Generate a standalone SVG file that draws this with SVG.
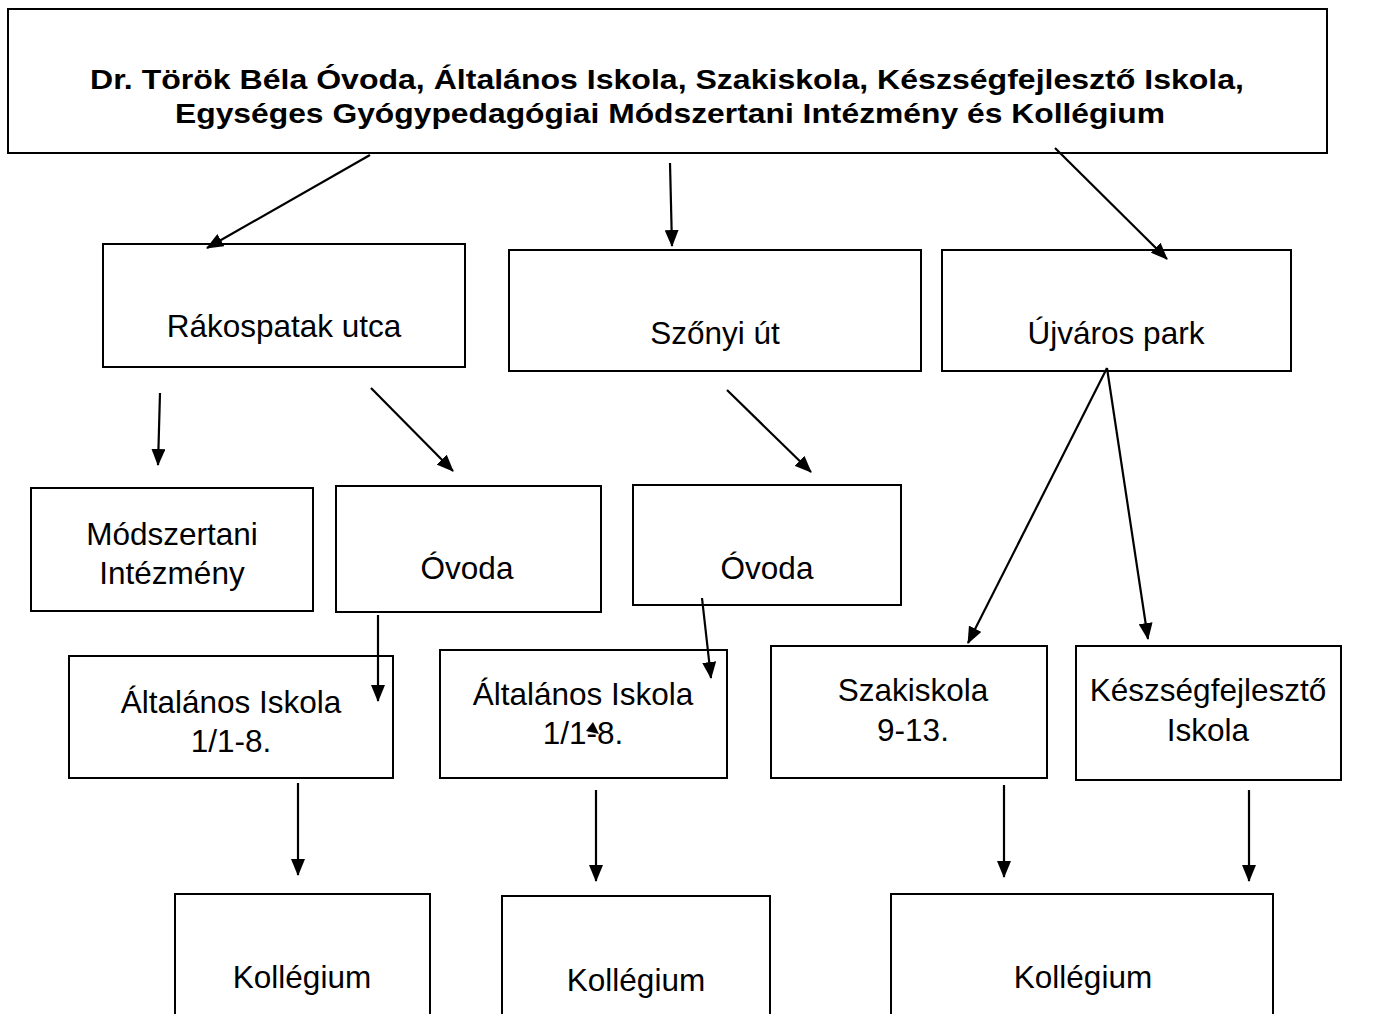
<svg xmlns="http://www.w3.org/2000/svg" width="1376" height="1014" viewBox="0 0 1376 1014">
<defs>
<marker id="ah" markerWidth="17" markerHeight="14" refX="16" refY="7" orient="auto" markerUnits="userSpaceOnUse">
<path d="M0,0 L17,7 L0,14 z" fill="#000"/>
</marker>
<style>
.box{fill:#fff;stroke:#000;stroke-width:2}
.t{font-family:"Liberation Sans",Arial,sans-serif;font-size:31.5px;fill:#000;text-anchor:middle}
.tb{font-family:"Liberation Sans",Arial,sans-serif;font-size:28px;font-weight:bold;fill:#000;text-anchor:middle}
.c{stroke:#000;stroke-width:2.2;fill:none;marker-end:url(#ah)}
</style>
</defs>
<rect width="1376" height="1014" fill="#fff"/>
<g id="root">
<rect class="box" x="8" y="9" width="1319" height="144"/>
<text class="tb" x="667" y="89" textLength="1154" lengthAdjust="spacingAndGlyphs">Dr. Török Béla Óvoda, Általános Iskola, Szakiskola, Készségfejlesztő Iskola,</text>
<text class="tb" x="670" y="123" textLength="990" lengthAdjust="spacingAndGlyphs">Egységes Gyógypedagógiai Módszertani Intézmény és Kollégium</text>
</g>
<g id="rakospatak">
<rect class="box" x="103" y="244" width="362" height="123"/>
<text class="t" x="284" y="337">Rákospatak utca</text>
</g>
<g id="szonyi">
<rect class="box" x="509" y="250" width="412" height="121"/>
<text class="t" x="715" y="344">Szőnyi út</text>
</g>
<g id="ujvaros">
<rect class="box" x="942" y="250" width="349" height="121"/>
<text class="t" x="1116" y="344">Újváros park</text>
</g>
<g id="modszertani">
<rect class="box" x="31" y="488" width="282" height="123"/>
<text class="t" x="172" y="545">Módszertani</text>
<text class="t" x="172" y="584">Intézmény</text>
</g>
<g id="ovoda1">
<rect class="box" x="336" y="486" width="265" height="126"/>
<text class="t" x="467" y="579">Óvoda</text>
</g>
<g id="ovoda2">
<rect class="box" x="633" y="485" width="268" height="120"/>
<text class="t" x="767" y="579">Óvoda</text>
</g>
<g id="altalanos1">
<rect class="box" x="69" y="656" width="324" height="122"/>
<text class="t" x="231" y="713">Általános Iskola</text>
<text class="t" x="231" y="752">1/1-8.</text>
</g>
<g id="altalanos2">
<rect class="box" x="440" y="650" width="287" height="128"/>
<text class="t" x="583" y="705">Általános Iskola</text>
<text class="t" x="583" y="744">1/1-8.</text>
</g>
<g id="szakiskola">
<rect class="box" x="771" y="646" width="276" height="132"/>
<text class="t" x="913" y="701">Szakiskola</text>
<text class="t" x="913" y="741">9-13.</text>
</g>
<g id="keszseg">
<rect class="box" x="1076" y="646" width="265" height="134"/>
<text class="t" x="1208" y="701">Készségfejlesztő</text>
<text class="t" x="1208" y="741">Iskola</text>
</g>
<g id="kollegium1">
<rect class="box" x="175" y="894" width="255" height="140"/>
<text class="t" x="302" y="988">Kollégium</text>
</g>
<g id="kollegium2">
<rect class="box" x="502" y="896" width="268" height="140"/>
<text class="t" x="636" y="991">Kollégium</text>
</g>
<g id="kollegium3">
<rect class="box" x="891" y="894" width="382" height="140"/>
<text class="t" x="1083" y="988">Kollégium</text>
</g>
<g id="connectors">
<line class="c" x1="370" y1="155" x2="207" y2="248"/>
<line class="c" x1="670" y1="163" x2="672" y2="246"/>
<line class="c" x1="1055" y1="148" x2="1167" y2="259"/>
<line class="c" x1="160" y1="393" x2="158" y2="465"/>
<line class="c" x1="371" y1="388" x2="453" y2="471"/>
<line class="c" x1="727" y1="390" x2="811" y2="472"/>
<line class="c" x1="1107" y1="368" x2="968" y2="643"/>
<line class="c" x1="1107" y1="368" x2="1148" y2="639"/>
<line class="c" x1="378" y1="615" x2="378" y2="701"/>
<line class="c" x1="702" y1="598" x2="711" y2="678"/>
<path d="M593,722 L599,734 L586,731 z" fill="#000"/>
<line class="c" x1="298" y1="783" x2="298" y2="875"/>
<line class="c" x1="596" y1="790" x2="596" y2="881"/>
<line class="c" x1="1004" y1="785" x2="1004" y2="877"/>
<line class="c" x1="1249" y1="790" x2="1249" y2="881"/>
</g>
</svg>
